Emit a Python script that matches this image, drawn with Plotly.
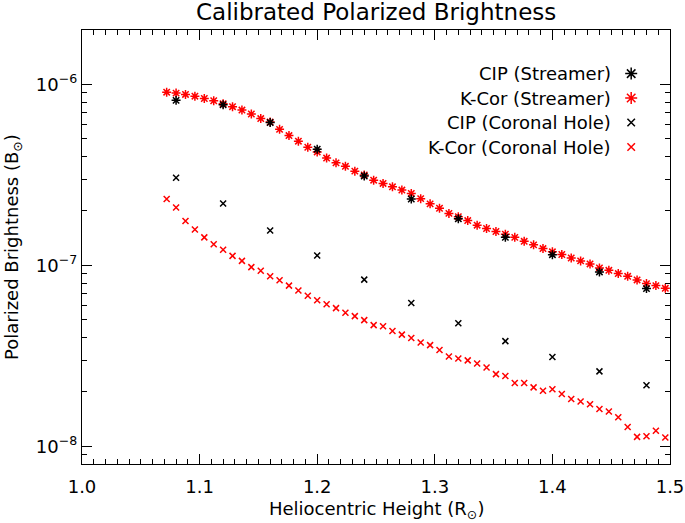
import plotly.graph_objects as go
import math

# ---------------- data ----------------
h_cip = [1.08, 1.12, 1.16, 1.20, 1.24, 1.28, 1.32, 1.36, 1.40, 1.44, 1.48]
pb_cip_streamer = [8.17e-7, 7.73e-7, 6.16e-7, 4.39e-7, 3.12e-7, 2.33e-7,
                   1.81e-7, 1.43e-7, 1.147e-7, 9.21e-8, 7.45e-8]
pb_cip_hole = [3.05e-7, 2.20e-7, 1.56e-7, 1.136e-7, 8.35e-8, 6.20e-8,
               4.79e-8, 3.82e-8, 3.12e-8, 2.60e-8, 2.18e-8]

h_kcor = [1.072, 1.080, 1.088, 1.096, 1.104, 1.112, 1.120, 1.128, 1.136, 1.144,
          1.152, 1.160, 1.168, 1.176, 1.184, 1.192, 1.200, 1.208, 1.216, 1.224,
          1.232, 1.240, 1.248, 1.256, 1.264, 1.272, 1.280, 1.288, 1.296, 1.304,
          1.312, 1.320, 1.328, 1.336, 1.344, 1.352, 1.360, 1.368, 1.376, 1.384,
          1.392, 1.400, 1.408, 1.416, 1.424, 1.432, 1.440, 1.448, 1.456, 1.464,
          1.472, 1.480, 1.488, 1.496]
pb_kcor_streamer = [9.07e-7, 8.96e-7, 8.81e-7, 8.62e-7, 8.37e-7, 8.13e-7, 7.83e-7, 7.54e-7,
                    7.22e-7, 6.87e-7, 6.48e-7, 6.20e-7, 5.65e-7, 5.22e-7, 4.86e-7, 4.50e-7,
                    4.24e-7, 3.92e-7, 3.69e-7, 3.53e-7, 3.32e-7, 3.16e-7, 2.96e-7, 2.84e-7,
                    2.72e-7, 2.61e-7, 2.50e-7, 2.34e-7, 2.19e-7, 2.07e-7, 1.94e-7, 1.86e-7,
                    1.77e-7, 1.67e-7, 1.60e-7, 1.54e-7, 1.49e-7, 1.43e-7, 1.36e-7, 1.30e-7,
                    1.24e-7, 1.19e-7, 1.15e-7, 1.10e-7, 1.06e-7, 1.02e-7, 9.69e-8, 9.40e-8,
                    9.02e-8, 8.71e-8, 8.32e-8, 7.94e-8, 7.74e-8, 7.48e-8]
pb_kcor_hole = [2.33e-7, 2.09e-7, 1.76e-7, 1.58e-7, 1.43e-7, 1.31e-7, 1.22e-7, 1.13e-7,
                1.06e-7, 9.79e-8, 9.36e-8, 8.71e-8, 8.28e-8, 7.74e-8, 7.27e-8, 6.80e-8,
                6.43e-8, 6.11e-8, 5.81e-8, 5.48e-8, 5.25e-8, 4.99e-8, 4.68e-8, 4.62e-8,
                4.34e-8, 4.15e-8, 3.97e-8, 3.75e-8, 3.63e-8, 3.41e-8, 3.14e-8, 3.06e-8,
                2.99e-8, 2.87e-8, 2.73e-8, 2.51e-8, 2.45e-8, 2.24e-8, 2.24e-8, 2.12e-8,
                2.03e-8, 2.07e-8, 1.95e-8, 1.83e-8, 1.77e-8, 1.71e-8, 1.61e-8, 1.56e-8,
                1.45e-8, 1.28e-8, 1.13e-8, 1.14e-8, 1.22e-8, 1.12e-8]

legend_labels = ["CIP (Streamer)", "K-Cor (Streamer)", "CIP (Coronal Hole)", "K-Cor (Coronal Hole)"]
legend_symbols = ["asterisk-open", "asterisk-open", "x-thin-open", "x-thin-open"]
legend_colors = ["black", "#ff0000", "black", "#ff0000"]

x_tickvals = [1.0, 1.1, 1.2, 1.3, 1.4, 1.5]
x_ticktext = ["1.0", "1.1", "1.2", "1.3", "1.4", "1.5"]
x_minor = [round(1.0 + 0.01 * k, 2) for k in range(1, 50) if k % 10 != 0]
y_tickvals = [1e-8, 1e-7, 1e-6]
y_ticktext = ["10<sup>−8</sup>", "10<sup>−7</sup>", "10<sup>−6</sup>"]
y_minor = [9e-9] + [k * 1e-8 for k in range(2, 10)] + [k * 1e-7 for k in range(2, 10)]

# ---------------- style ----------------
FONT = "DejaVu Sans"
RED = "#ff0000"
XR = [1.0, 1.5]
YR = [math.log10(8e-9), math.log10(2e-6)]

fig = go.Figure()


def mk(symbol, size, color):
    return dict(symbol=symbol, size=size, color=color, line=dict(color=color, width=1.5))


fig.add_trace(go.Scatter(x=h_kcor, y=pb_kcor_streamer, mode="markers",
                         marker=mk("asterisk-open", 7.5, RED), name="K-Cor (Streamer)"))
fig.add_trace(go.Scatter(x=h_kcor, y=pb_kcor_hole, mode="markers",
                         marker=mk("x-thin-open", 6, RED), name="K-Cor (Coronal Hole)"))
fig.add_trace(go.Scatter(x=h_cip, y=pb_cip_streamer, mode="markers",
                         marker=mk("asterisk-open", 7.5, "black"), name="CIP (Streamer)"))
fig.add_trace(go.Scatter(x=h_cip, y=pb_cip_hole, mode="markers",
                         marker=mk("x-thin-open", 6, "black"), name="CIP (Coronal Hole)"))

# legend drawn in plot-fraction coordinates (symbol right of text)
leg_y = [0.8995, 0.8432, 0.7868, 0.7304]
leg_sym_x = 0.934
leg_txt_x = 0.9036
for lab, sym, col, yy in zip(legend_labels, legend_symbols, legend_colors, leg_y):
    fig.add_trace(go.Scatter(x=[leg_sym_x], y=[yy], mode="markers", xaxis="x2", yaxis="y2",
                             marker=mk(sym, 10 if "asterisk" in sym else 7.5, col),
                             hoverinfo="skip"))
    fig.add_annotation(x=leg_txt_x, y=yy, xref="paper", yref="paper", text=lab,
                       showarrow=False, xanchor="right", yanchor="middle",
                       font=dict(family=FONT, size=18, color="black"))

# title and axis titles
fig.add_annotation(x=0.5, y=1, xref="paper", yref="paper", text="Calibrated Polarized Brightness",
                   showarrow=False, xanchor="center", yanchor="middle", yshift=18,
                   font=dict(family=FONT, size=23, color="black"))
fig.add_annotation(x=0.5, y=0, xref="paper", yref="paper", text="Heliocentric Height (R<sub>⊙</sub>)",
                   showarrow=False, xanchor="center", yanchor="middle", yshift=-46,
                   font=dict(family=FONT, size=18, color="black"))
fig.add_annotation(x=0, y=0.5, xref="paper", yref="paper", text="Polarized Brightness (B<sub>⊙</sub>)",
                   showarrow=False, xanchor="center", yanchor="middle", xshift=-69, textangle=-90,
                   font=dict(family=FONT, size=18, color="black"))

axis_common = dict(showline=True, linecolor="black", linewidth=1.3, mirror="ticks",
                   ticks="inside", tickcolor="black", tickwidth=1.3, showgrid=False,
                   zeroline=False, layer="above traces",
                   tickfont=dict(family=FONT, size=18, color="black"))

minor_common = dict(ticks="inside", ticklen=5, tickwidth=1.2, tickcolor="black", mirror="ticks",
                    showline=False, showticklabels=False, showgrid=False, zeroline=False,
                    layer="above traces")

fig.update_layout(
    width=685, height=523,
    margin=dict(l=82, r=15, t=30, b=59, autoexpand=False),
    paper_bgcolor="white", plot_bgcolor="white",
    showlegend=False,
    font=dict(family=FONT, size=18, color="black"),
    xaxis=dict(range=XR, tickmode="array", tickvals=x_tickvals, ticktext=x_ticktext,
               ticklen=10, ticklabelstandoff=6, **axis_common),
    yaxis=dict(type="log", range=YR, tickmode="array", tickvals=y_tickvals, ticktext=y_ticktext,
               ticklen=10, ticklabelstandoff=0, **axis_common),
    xaxis2=dict(overlaying="x", range=[0, 1], visible=False),
    yaxis2=dict(overlaying="y", range=[0, 1], visible=False),
    # minor tick axes
    xaxis3=dict(overlaying="x", range=XR, tickmode="array", tickvals=x_minor, anchor="y",
                **minor_common),
    yaxis3=dict(overlaying="y", type="log", range=YR, tickmode="array", tickvals=y_minor,
                anchor="x", **minor_common),
)

# invisible trace to activate the minor-tick axes
fig.add_trace(go.Scatter(x=[None], y=[None], xaxis="x3", yaxis="y3", mode="markers",
                         hoverinfo="skip"))

fig.write_html("out.html", config={"displayModeBar": False},
               post_script="document.body.style.margin='0';")
